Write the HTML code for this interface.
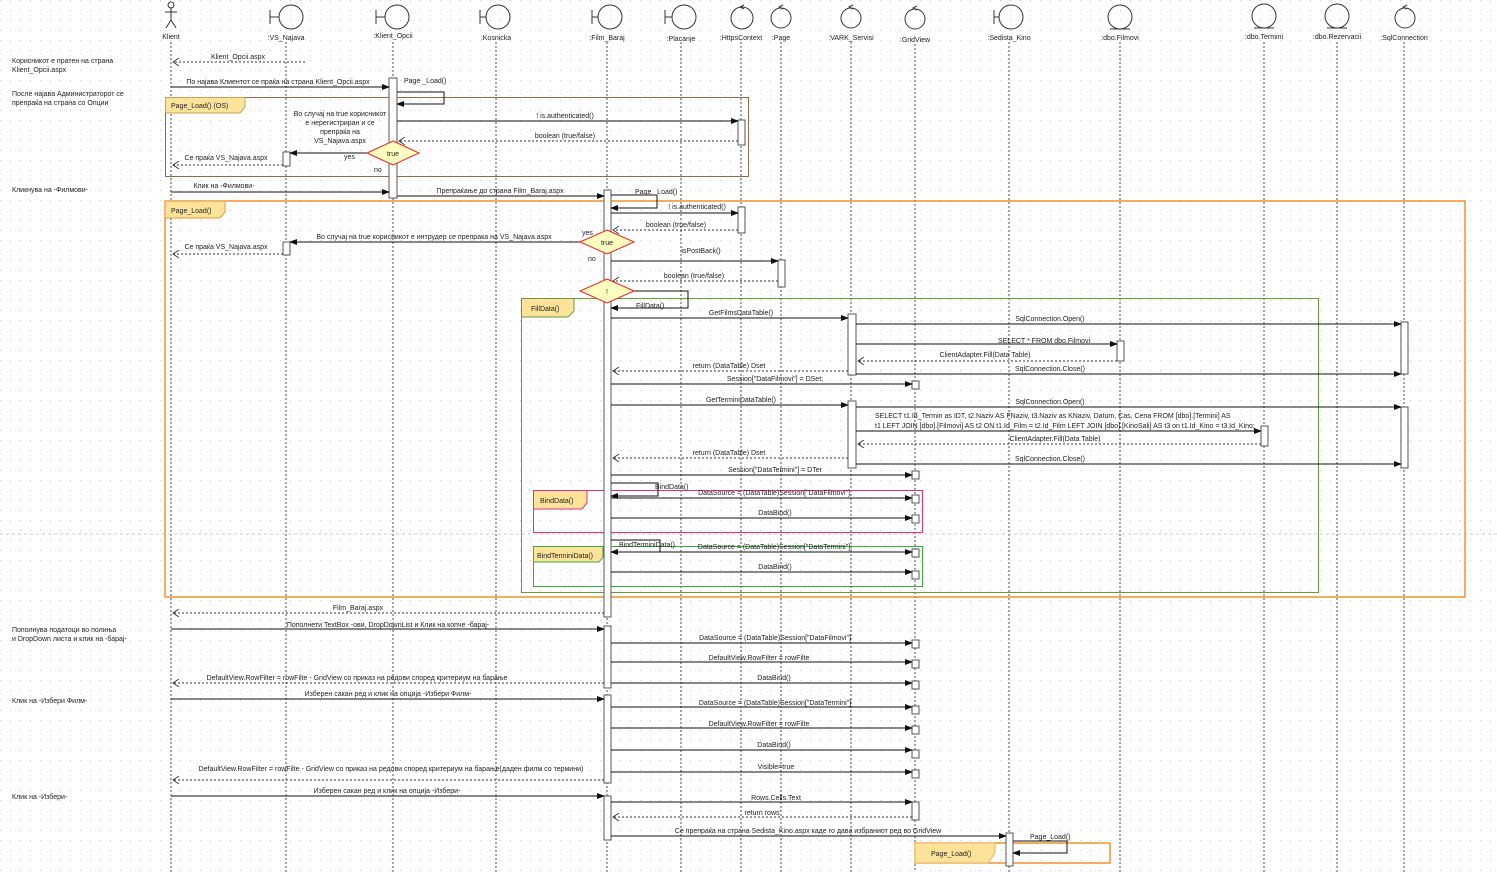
<!DOCTYPE html>
<html><head><meta charset="utf-8"><style>
html,body{margin:0;padding:0;background:#fff;}
svg{display:block;}
text{font-family:"Liberation Sans",sans-serif;font-size:7px;fill:#222;}
.l{stroke:#333;stroke-width:1;fill:none;}
.ll{stroke:#222;stroke-width:0.8;stroke-dasharray:2,2;fill:none;}
.m{stroke:#111;stroke-width:1;fill:none;marker-end:url(#af);}
.r{stroke:#333;stroke-width:0.9;stroke-dasharray:2,2;fill:none;marker-end:url(#ao);}
.act{fill:#fff;stroke:#555;stroke-width:1;}
.c{text-anchor:middle;}
</style></head><body>
<svg width="1497" height="872" viewBox="0 0 1497 872" xmlns="http://www.w3.org/2000/svg">
<defs>
<pattern id="g" width="10" height="10" patternUnits="userSpaceOnUse"><rect x="0" y="0" width="1" height="1" fill="#c8c8c8"/></pattern>
<marker id="af" markerWidth="8" markerHeight="6" refX="7" refY="3" orient="auto" markerUnits="userSpaceOnUse"><path d="M0,0 L8,3 L0,6 z" fill="#111"/></marker>
<marker id="ao" markerWidth="8" markerHeight="8" refX="7" refY="4" orient="auto" markerUnits="userSpaceOnUse"><path d="M1,0 L7,4 L1,8" fill="none" stroke="#333" stroke-width="0.9"/></marker>
</defs>
<rect width="1497" height="872" fill="url(#g)"/>

<!-- lifelines -->
<g class="ll">
<line x1="171" y1="42" x2="171" y2="872"/><line x1="286" y1="42" x2="286" y2="872"/>
<line x1="393" y1="42" x2="393" y2="872"/><line x1="496" y1="42" x2="496" y2="872"/>
<line x1="607" y1="42" x2="607" y2="872"/><line x1="681" y1="42" x2="681" y2="872"/>
<line x1="741" y1="42" x2="741" y2="872"/><line x1="781" y1="42" x2="781" y2="872"/>
<line x1="851" y1="42" x2="851" y2="872"/><line x1="915" y1="44" x2="915" y2="872"/>
<line x1="1009" y1="42" x2="1009" y2="872"/><line x1="1120" y1="42" x2="1120" y2="872"/>
<line x1="1264" y1="42" x2="1264" y2="872"/><line x1="1337" y1="42" x2="1337" y2="872"/>
<line x1="1404" y1="42" x2="1404" y2="872"/>
</g>

<!-- heads -->
<g class="l">
<circle cx="171" cy="5" r="3"/><line x1="171" y1="8" x2="171" y2="20"/><line x1="165" y1="12" x2="177" y2="12"/><line x1="171" y1="20" x2="166" y2="28"/><line x1="171" y1="20" x2="176" y2="28"/>
<circle cx="291" cy="17" r="12"/><line x1="279" y1="17" x2="270" y2="17"/><line x1="270" y1="10" x2="270" y2="24"/>
<circle cx="397" cy="17" r="12"/><line x1="385" y1="17" x2="376" y2="17"/><line x1="376" y1="10" x2="376" y2="24"/>
<circle cx="498" cy="17" r="12"/><line x1="486" y1="17" x2="480" y2="17"/><line x1="480" y1="10" x2="480" y2="24"/>
<circle cx="610" cy="17" r="12"/><line x1="598" y1="17" x2="592" y2="17"/><line x1="592" y1="10" x2="592" y2="24"/>
<circle cx="684" cy="17" r="12"/><line x1="672" y1="17" x2="665" y2="17"/><line x1="665" y1="10" x2="665" y2="24"/>
<circle cx="742" cy="18" r="11"/><path d="M744,5 L740,7 L744,9"/>
<circle cx="781" cy="18" r="10"/><path d="M783,5 L779,7 L783,9"/>
<circle cx="851" cy="18" r="10"/><path d="M853,5 L849,7 L853,9"/>
<circle cx="915" cy="19" r="10"/><path d="M917,6 L913,8 L917,10"/>
<circle cx="1011" cy="17" r="12"/><line x1="999" y1="17" x2="994" y2="17"/><line x1="994" y1="10" x2="994" y2="24"/>
<circle cx="1120" cy="17" r="12"/><line x1="1110" y1="29" x2="1130" y2="29"/>
<circle cx="1264" cy="16" r="12"/><line x1="1254" y1="28" x2="1274" y2="28"/>
<circle cx="1337" cy="16" r="12"/><line x1="1327" y1="28" x2="1347" y2="28"/>
<circle cx="1405" cy="18" r="10"/><path d="M1407,5 L1403,7 L1407,9"/>
</g>
<g class="c">
<text x="171" y="39">Klient</text><text x="286" y="40">:VS_Najava</text><text x="393" y="38">:Klient_Opcii</text>
<text x="496" y="40">:Kosnicka</text><text x="607" y="40">:Film_Baraj</text><text x="681" y="41">:Placanje</text>
<text x="741" y="40">:HttpsContext</text><text x="781" y="40">:Page</text><text x="851" y="40">:VARK_Servisi</text>
<text x="915" y="42">:GridView</text><text x="1009" y="40">:Sedista_Kino</text><text x="1120" y="40">:dbo.Filmovi</text>
<text x="1264" y="39">:dbo.Termini</text><text x="1337" y="39">:dbo.Rezervacii</text><text x="1404" y="40">:SqlConnection</text>
</g>

<!-- left notes -->
<text x="12" y="63">Корисникот е пратен на страна</text><text x="12" y="72">Klient_Opcii.aspx</text>
<text x="12" y="96">После најава Администраторот се</text><text x="12" y="105">препраќа на страна со Опции</text>
<text x="12" y="192">Кликнува на -Филмови-</text>
<text x="12" y="632">Пополнува податоци во полиња</text><text x="12" y="641">и DropDown листа и клик на -барај-</text>
<text x="12" y="703">Клик на -Избери Филм-</text>
<text x="12" y="799">Клик на -Избери-</text>

<!-- gray separator -->
<line x1="0" y1="534" x2="1497" y2="534" stroke="#bbb" stroke-width="0.8" stroke-dasharray="3,3"/>

<!-- frames -->
<rect x="165.5" y="97.5" width="583" height="79" fill="none" stroke="#8a6d4d" stroke-width="1"/>
<path d="M165.5,97.5 H245 V107 L240,113 H165.5 z" fill="#fde39a" stroke="#c9a05a"/><text x="171" y="108">Page_Load() (OS)</text>
<rect x="165" y="201" width="1300" height="396" fill="none" stroke="#f08a20" stroke-width="1.4"/>
<path d="M165,201 H225 V212 L220,218 H165 z" fill="#fde39a" stroke="#e09a3a"/><text x="171" y="213">Page_Load()</text>
<rect x="521.5" y="298.5" width="797" height="294" fill="none" stroke="#6a9a3a" stroke-width="1"/>
<path d="M521.5,298.5 H574 V311 L568,317 H521.5 z" fill="#fde39a" stroke="#6a9a3a"/><text x="531" y="311">FillData()</text>
<rect x="533.5" y="490.5" width="389" height="42" fill="none" stroke="#e0307f" stroke-width="1"/>
<path d="M533.5,490.5 H587 V503 L582,509 H533.5 z" fill="#fde39a" stroke="#e0307f"/><text x="540" y="503">BindData()</text>
<rect x="533.5" y="546.5" width="389" height="40" fill="none" stroke="#3aaa3a" stroke-width="1"/>
<path d="M533.5,546.5 H603 V557 L599,562 H533.5 z" fill="#fde39a" stroke="#3aaa3a"/><text x="537" y="558">BindTerminiData()</text>
<rect x="915" y="843" width="195" height="20" fill="none" stroke="#f08a20" stroke-width="1.4"/>
<path d="M915,843 H995 V853 L988,863 H915 z" fill="#fde39a" stroke="#f2b060"/><text x="931" y="856">Page_Load()</text>

<!-- activations -->
<rect class="act" x="389" y="78" width="8" height="120"/>
<rect class="act" x="738" y="120" width="7" height="25"/>
<rect class="act" x="283" y="152" width="7" height="14"/>
<rect class="act" x="604" y="190" width="7" height="427"/>
<rect class="act" x="738" y="207" width="7" height="26"/>
<rect class="act" x="283" y="242" width="7" height="13"/>
<rect class="act" x="778" y="260" width="7" height="27"/>
<rect class="act" x="848" y="314" width="8" height="61"/>
<rect class="act" x="1401" y="322" width="7" height="52"/>
<rect class="act" x="1117" y="341" width="7" height="20"/>
<rect class="act" x="848" y="401" width="8" height="67"/>
<rect class="act" x="1401" y="407" width="7" height="61"/>
<rect class="act" x="1261" y="426" width="7" height="20"/>
<rect class="act" x="604" y="626" width="7" height="62"/>
<rect class="act" x="604" y="695" width="7" height="88"/>
<rect class="act" x="604" y="796" width="7" height="44"/>
<rect class="act" x="912" y="802" width="7" height="18"/>
<rect class="act" x="1006" y="833" width="7" height="33"/>
<g class="act">
<rect x="912" y="381" width="7" height="8"/><rect x="912" y="471" width="7" height="8"/>
<rect x="912" y="495" width="7" height="8"/><rect x="912" y="515" width="7" height="8"/>
<rect x="912" y="549" width="7" height="8"/><rect x="912" y="571" width="7" height="8"/>
<rect x="912" y="640" width="7" height="8"/><rect x="912" y="660" width="7" height="8"/><rect x="912" y="681" width="7" height="8"/>
<rect x="912" y="706" width="7" height="8"/><rect x="912" y="726" width="7" height="8"/><rect x="912" y="750" width="7" height="8"/><rect x="912" y="770" width="7" height="8"/>
</g>

<!-- messages -->
<line class="r" x1="305" y1="62" x2="173" y2="62"/><text x="238" y="59" class="c">Klient_Opcii.aspx</text>
<line class="m" x1="171" y1="87" x2="389" y2="87"/><text x="278" y="84" class="c">По најава Клиентот се праќа на страна Klient_Opcii.aspx</text>
<path class="m" d="M397,92 H444 V104 H397"/><text x="404" y="83">Page _Load()</text>
<line class="m" x1="397" y1="121" x2="738" y2="121"/><text x="565" y="118" class="c">! is.authenticated()</text>
<line class="r" x1="738" y1="141" x2="399" y2="141"/><text x="565" y="138" class="c">boolean (true/false)</text>
<text x="340" y="116" class="c">Во случај на true корисникот</text><text x="340" y="125" class="c">е нерегистриран и се</text><text x="340" y="134" class="c">препраќа на</text><text x="340" y="143" class="c">VS_Najava.aspx</text>
<line class="m" x1="367" y1="153" x2="290" y2="153"/><text x="344" y="159">yes</text>
<line class="r" x1="283" y1="165" x2="173" y2="165"/><text x="226" y="160" class="c">Се праќа VS_Najava.aspx</text>
<polygon points="393,141 419,153 393,165 367,153" fill="#ffffc0" stroke="#e22" stroke-width="1"/><text x="393" y="156" class="c">true</text>
<text x="374" y="172">no</text>
<line class="m" x1="171" y1="192" x2="389" y2="192"/><text x="224" y="188" class="c">Клик на -Филмови-</text>
<line class="m" x1="397" y1="196" x2="604" y2="196"/><text x="500" y="193" class="c">Препраќање до страна Film_Baraj.aspx</text>
<path class="m" d="M611,195 H657 V208 H611"/><text x="635" y="194">Page _Load()</text>
<line class="m" x1="611" y1="213" x2="738" y2="213"/><text x="697" y="209" class="c">! is.authenticated()</text>
<line class="r" x1="738" y1="230" x2="613" y2="230"/><text x="676" y="227" class="c">boolean (true/false)</text>
<line class="m" x1="581" y1="242" x2="290" y2="242"/><text x="434" y="239" class="c">Во случај на true корисникот е интрудер се препрака на VS_Najava.aspx</text>
<text x="582" y="235">yes</text>
<line class="r" x1="283" y1="254" x2="173" y2="254"/><text x="226" y="249" class="c">Се праќа VS_Najava.aspx</text>
<polygon points="607,230 634,242 607,254 580,242" fill="#ffffc0" stroke="#e22" stroke-width="1"/><text x="607" y="245" class="c">true</text>
<text x="588" y="261">no</text>
<line class="m" x1="611" y1="261" x2="778" y2="261"/><text x="701" y="253" class="c">isPostBack()</text>
<line class="r" x1="778" y1="281" x2="613" y2="281"/><text x="694" y="278" class="c">boolean (true/false)</text>
<path class="m" d="M633,291 H688 V308 H611"/><text x="636" y="308">FillData()</text>
<polygon points="607,279 634,291 607,303 580,291" fill="#ffffc0" stroke="#e22" stroke-width="1"/><text x="607" y="294" class="c">!</text>
<line class="m" x1="611" y1="318" x2="848" y2="318"/><text x="741" y="315" class="c">GetFilmsDataTable()</text>
<line class="m" x1="856" y1="324" x2="1401" y2="324"/><text x="1050" y="321" class="c">SqlConnection.Open()</text>
<line class="m" x1="856" y1="344" x2="1117" y2="344"/><text x="1044" y="343" class="c">SELECT * FROM dbo.Filmovi</text>
<line class="r" x1="1117" y1="361" x2="858" y2="361"/><text x="985" y="357" class="c">ClientAdapter.Fill(Data Table)</text>
<line class="m" x1="856" y1="374" x2="1401" y2="374"/><text x="1050" y="371" class="c">SqlConnection.Close()</text>
<line class="r" x1="848" y1="371" x2="613" y2="371"/><text x="729" y="368" class="c">return (DataTable) Dset</text>
<line class="m" x1="611" y1="384" x2="912" y2="384"/><text x="775" y="381" class="c">Session["DataFilmovi"] = DSet;</text>
<line class="m" x1="611" y1="405" x2="848" y2="405"/><text x="741" y="402" class="c">GetTerminiDataTable()</text>
<line class="m" x1="856" y1="407" x2="1401" y2="407"/><text x="1050" y="404" class="c">SqlConnection.Open()</text>
<text x="875" y="418">SELECT t1.Id_Termin as IDT, t2.Naziv AS FNaziv, t3.Naziv as KNaziv, Datum, Cas, Cena FROM [dbo].[Termini] AS</text>
<text x="875" y="428">t1 LEFT JOIN [dbo].[Filmovi] AS t2 ON t1.Id_Film = t2.Id_Film LEFT JOIN [dbo].[KinoSali] AS t3 on t1.Id_Kino = t3.Id_Kino;</text>
<line class="m" x1="856" y1="431" x2="1261" y2="431"/>
<line class="r" x1="1261" y1="444" x2="858" y2="444"/><text x="1055" y="441" class="c">ClientAdapter.Fill(Data Table)</text>
<line class="m" x1="856" y1="464" x2="1401" y2="464"/><text x="1050" y="461" class="c">SqlConnection.Close()</text>
<line class="r" x1="848" y1="458" x2="613" y2="458"/><text x="729" y="455" class="c">return (DataTable) Dset</text>
<line class="m" x1="611" y1="475" x2="912" y2="475"/><text x="775" y="472" class="c">Session["DataTermini"] = DTer</text>
<path class="m" d="M611,483 H658 V496 H611"/><text x="655" y="489">BindData()</text>
<line class="m" x1="611" y1="498" x2="912" y2="498"/><text x="775" y="495" class="c">DataSource = (DataTable)Session["DataFilmovi"];</text>
<line class="m" x1="611" y1="518" x2="912" y2="518"/><text x="775" y="515" class="c">DataBind()</text>
<path class="m" d="M611,540 H660 V552 H611"/><text x="619" y="547">BindTerminiData()</text>
<line class="m" x1="611" y1="552" x2="912" y2="552"/><text x="775" y="549" class="c">DataSource = (DataTable)Session["DataTermini"];</text>
<line class="m" x1="611" y1="572" x2="912" y2="572"/><text x="775" y="569" class="c">DataBind()</text>
<line class="r" x1="604" y1="613" x2="173" y2="613"/><text x="358" y="610" class="c">Film_Baraj.aspx</text>
<line class="m" x1="171" y1="629" x2="604" y2="629"/><text x="388" y="627" class="c">Пополнети TextBox -ови, DropDownList и Клик на копче -барај-</text>
<line class="m" x1="611" y1="643" x2="912" y2="643"/><text x="775" y="640" class="c">DataSource = (DataTable)Session["DataFilmovi"]</text>
<line class="m" x1="611" y1="662" x2="912" y2="662"/><text x="759" y="660" class="c">DefaultView.RowFilter = rowFilte</text>
<line class="m" x1="611" y1="683" x2="912" y2="683"/><text x="774" y="680" class="c">DataBind()</text>
<line class="r" x1="604" y1="683" x2="173" y2="683"/><text x="357" y="680" class="c">DefaultView.RowFilter = rowFilte - GridView со приказ на редови според критериум на барање</text>
<line class="m" x1="171" y1="699" x2="604" y2="699"/><text x="388" y="696" class="c">Изберен сакан ред и клик на опција -Избери Филм-</text>
<line class="m" x1="611" y1="707" x2="912" y2="707"/><text x="775" y="705" class="c">DataSource = (DataTable)Session["DataTermini"]</text>
<line class="m" x1="611" y1="728" x2="912" y2="728"/><text x="759" y="726" class="c">DefaultView.RowFilter = rowFilte</text>
<line class="m" x1="611" y1="750" x2="912" y2="750"/><text x="774" y="747" class="c">DataBind()</text>
<line class="m" x1="611" y1="772" x2="912" y2="772"/><text x="776" y="769" class="c">Visible=true</text>
<line class="r" x1="604" y1="780" x2="173" y2="780"/><text x="391" y="771" class="c">DefaultView.RowFilter = rowFilte - GridView со приказ на редови според критериум на барање(даден филм со термини)</text>
<line class="m" x1="171" y1="796" x2="604" y2="796"/><text x="387" y="793" class="c">Изберен сакан ред и клик на опција -Избери-</text>
<line class="m" x1="611" y1="802" x2="912" y2="802"/><text x="776" y="800" class="c">Rows.Cells.Text</text>
<line class="r" x1="912" y1="817" x2="613" y2="817"/><text x="762" y="815" class="c">return rows</text>
<line class="m" x1="611" y1="836" x2="1006" y2="836"/><text x="808" y="833" class="c">Се препраќа на страна Sedista_Kino.aspx каде го дава избраниот ред во GridView</text>
<path class="m" d="M1013,841 H1067 V853 H1013"/><text x="1030" y="839">Page_Load()</text>
</svg>
</body></html>
